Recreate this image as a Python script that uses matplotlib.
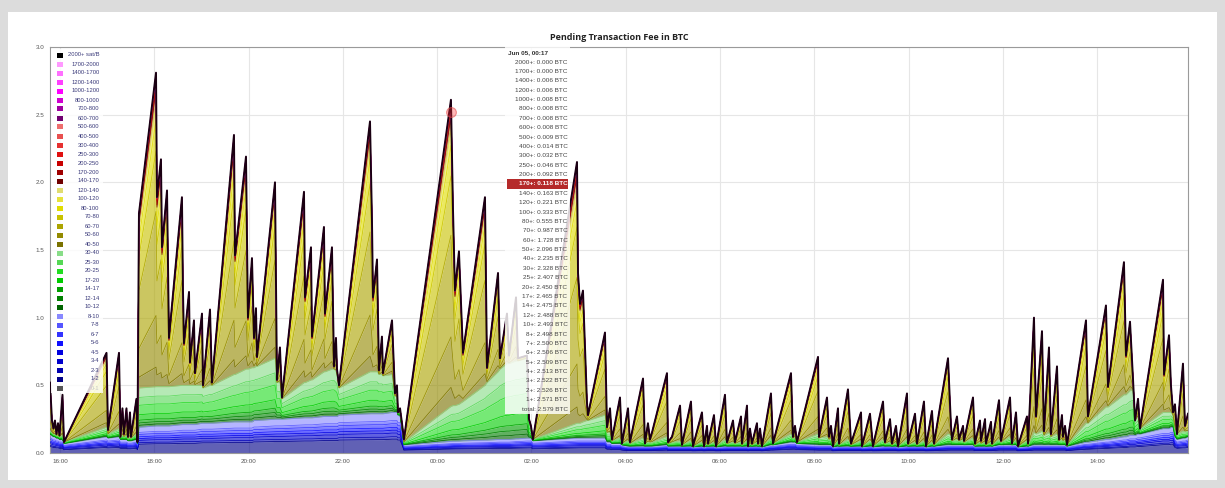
import numpy as np
import matplotlib
matplotlib.use("Agg")
import matplotlib.pyplot as plt
from matplotlib.patches import Rectangle

# ---------------- data ----------------
# time: minutes after Jun 04 16:00
minutes = [
    -12.7, -10.2, -8.3, -6.4, -4.5, -2.5, -0.6, 3.2, 5.1, 59.2, 61.1, 75.1, 77.0, 79.5, 81.4, 84.6, 86.5, 89.1, 90.3, 97.3, 98.6,
    100.5, 122.2, 123.4, 128.5, 129.8, 136.2, 138.7, 155.2, 156.5, 157.8, 164.2, 165.4, 170.5, 171.8, 180.7, 182.0, 190.9, 193.4,
    221.4, 222.7, 236.7, 239.2, 244.3, 246.9, 249.4, 250.7, 273.6, 276.1, 279.9, 282.5, 310.5, 311.8, 319.4, 320.7, 335.9, 337.2,
    346.1, 348.7, 351.2, 352.5, 355.0, 394.5, 397.0, 398.3, 403.4, 405.9, 409.7, 411.0, 422.5, 426.3, 428.8, 430.1, 432.7, 435.2, 437.7,
    497.5, 500.1, 502.6, 507.7, 512.8, 540.8, 543.4, 557.4, 559.9, 568.8, 571.4, 580.3, 582.8, 594.3, 596.8, 599.3, 601.9,
    657.9, 659.2, 661.7, 665.5, 670.6, 671.9, 693.5, 696.1, 699.9, 702.4, 712.6, 715.1,
    722.8, 725.3, 741.9, 744.4, 748.2, 750.8, 753.3, 772.4, 773.7, 778.8,
    789.0, 791.5, 802.9, 805.5, 816.9, 819.5, 823.3, 824.6, 832.2, 834.8,
    846.2, 848.7, 850.0, 856.4, 858.9, 866.6, 867.8, 874.2, 875.5, 878.0,
    880.6, 886.9, 888.2, 890.8, 893.3, 904.7, 907.3, 930.2, 932.7, 935.3,
    937.8, 964.6, 965.8, 976.0, 978.6, 981.1, 983.7, 990.0, 991.3, 1002.7,
    1006.6, 1019.3, 1020.5, 1030.7, 1033.3, 1034.5, 1047.3, 1049.8, 1056.2, 1058.7,
    1063.8, 1066.4, 1077.8, 1079.1, 1088.0, 1090.5, 1099.4, 1102.0, 1109.6, 1112.2,
    1130.0, 1133.8, 1135.1, 1141.4, 1144.0, 1149.1, 1150.4, 1161.8, 1164.3, 1170.7,
    1172.0, 1177.1, 1178.3, 1184.7, 1186.0, 1194.9, 1197.4, 1208.9, 1211.4, 1216.5,
    1219.1, 1230.5, 1231.8, 1239.4, 1242.0, 1249.6, 1252.1, 1258.5, 1261.0, 1268.7,
    1271.2, 1275.0, 1276.3, 1278.9, 1281.4,
    1305.6, 1308.1, 1331.0, 1333.6, 1353.9, 1356.5, 1361.6, 1365.4, 1368.0, 1371.8, 1374.3,
    1403.6, 1404.9, 1411.2, 1413.7, 1416.3, 1418.8, 1421.4, 1429.0, 1431.6, 1435.4,
]

# total pending fee (BTC)
total_btc = [
    .52, .24, .18, .24, .14, .22, .13, .43, .08, .74, .17, .74, .12, .33, .14, .33, .12, .30, .12, .40, .08,
    1.77, 2.81, 1.89, 2.17, 1.52, 1.94, .85, 1.89, 1.20, .81, 1.19, .67, .98, .59, 1.03, .50, 1.06, .52,
    2.35, 1.46, 2.19, 1.00, 1.44, .85, 1.07, .71, 2.00, .54, .78, .41, 1.93, 1.15, 1.52, .86, 1.67, 1.03,
    1.52, .64, .85, .62, .50, 2.45, 1.72, 1.15, 1.43, .61, .86, .59, .98, .44, .50, .30, .33, .22, .10,
    2.61, 1.80, 1.20, 1.49, .74, 1.89, .63, 1.33, .70, 1.03, .72, 1.15, .70, .72, .25, .20, .10,
    2.15, 1.33, 1.10, 1.20, .37, .28, .89, .19, .33, .10, .41, .07,
    .33, .08, .55, .07, .22, .10, .15, .59, .08, .12,
    .35, .06, .38, .05, .30, .05, .20, .07, .28, .05,
    .43, .08, .10, .24, .08, .27, .07, .35, .05, .18,
    .07, .22, .07, .18, .05, .44, .07, .59, .12, .20,
    .08, .71, .12, .41, .12, .20, .05, .33, .07, .47,
    .07, .30, .05, .29, .12, .05, .38, .08, .25, .07,
    .20, .05, .44, .07, .29, .07, .38, .05, .31, .07,
    .70, .20, .10, .27, .10, .20, .09, .41, .07, .24,
    .09, .25, .07, .23, .07, .39, .09, .41, .07, .30,
    .05, .27, .07, 1.00, .27, .90, .16, .78, .14, .64,
    .10, .28, .12, .20, .06,
    .98, .27, 1.09, .49, 1.41, .72, .97, .55, .24, .40, .18,
    1.28, .58, .87, .50, .30, .36, .14, .66, .20, .29,
]

# cumulative fee of transactions paying below 10 sat/B (blue bands)
below_10 = [
    .14, .13, .12, .12, .11, .11, .10, .10, .07, .12, .11, .12, .10, .10, .10, .10, .09, .09, .09, .10, .07,
    .19, .20, .20, .20, .20, .20, .20, .21, .21, .21, .21, .21, .21, .21, .22, .22, .22, .22,
    .23, .23, .23, .23, .23, .24, .24, .24, .25, .25, .25, .25, .26, .26, .26, .26, .27, .27,
    .27, .27, .27, .27, .28, .29, .29, .29, .29, .29, .29, .29, .30, .30, .30, .28, .28, .18, .06,
    .086, .087, .087, .088, .09, .095, .095, .10, .10, .10, .10, .105, .105, .11, .11, .11, .09,
    .11, .11, .11, .11, .11, .11, .11, .08, .08, .07, .07, .06,
    .05, .05, .05, .05, .05, .05, .05, .06, .05, .05,
    .05, .05, .05, .045, .05, .045, .05, .05, .05, .045,
    .05, .05, .05, .05, .05, .05, .05, .05, .045, .05,
    .05, .05, .05, .05, .045, .06, .06, .08, .08, .08,
    .07, .06, .06, .06, .06, .06, .045, .05, .05, .05,
    .05, .05, .045, .05, .05, .045, .05, .05, .05, .05,
    .05, .045, .05, .05, .05, .05, .05, .045, .05, .05,
    .06, .06, .06, .06, .06, .06, .06, .06, .05, .05,
    .05, .05, .05, .05, .05, .06, .06, .06, .06, .06,
    .045, .05, .05, .06, .06, .06, .06, .06, .06, .06,
    .06, .06, .06, .06, .05,
    .08, .08, .10, .10, .12, .12, .13, .13, .13, .14, .14,
    .18, .18, .18, .19, .19, .12, .10, .11, .11, .12,
]

# cumulative fee of transactions paying below 40 sat/B (blue + green bands)
below_40 = [
    .16, .15, .14, .14, .13, .13, .12, .13, .08, .19, .14, .18, .12, .13, .12, .13, .11, .12, .11, .14, .08,
    .48, .49, .49, .49, .49, .49, .49, .50, .50, .50, .50, .50, .50, .50, .50, .48, .50, .50,
    .58, .58, .62, .62, .63, .63, .64, .64, .70, .52, .52, .40, .52, .52, .54, .54, .60, .60,
    .62, .62, .60, .58, .48, .60, .60, .60, .60, .58, .58, .57, .58, .42, .42, .30, .30, .22, .08,
    .344, .35, .35, .36, .38, .50, .52, .60, .62, .66, .66, .68, .68, .70, .25, .20, .10,
    .22, .22, .22, .23, .24, .24, .28, .15, .15, .09, .11, .07,
    .09, .07, .11, .07, .08, .08, .08, .12, .07, .08,
    .09, .06, .09, .05, .08, .05, .07, .06, .08, .05,
    .10, .07, .07, .08, .07, .08, .06, .09, .05, .07,
    .06, .08, .06, .07, .05, .11, .07, .14, .11, .12,
    .08, .14, .11, .12, .10, .11, .05, .09, .06, .10,
    .06, .09, .05, .09, .08, .05, .10, .07, .08, .06,
    .08, .05, .10, .06, .08, .06, .09, .05, .08, .06,
    .14, .13, .09, .10, .09, .10, .08, .11, .06, .08,
    .07, .08, .06, .08, .06, .10, .08, .12, .07, .10,
    .05, .09, .06, .15, .14, .16, .13, .15, .12, .14,
    .09, .10, .09, .10, .06,
    .22, .22, .34, .34, .43, .43, .46, .47, .24, .27, .18,
    .30, .30, .30, .30, .28, .18, .14, .16, .16, .16,
]

# fee bands (bottom to top) and colours
band_labels = ["0-1", "1-2", "2-3", "3-4", "4-5", "5-6", "6-7", "7-8", "8-10",
               "10-12", "12-14", "14-17", "17-20", "20-25", "25-30", "30-40",
               "40-50", "50-60", "60-70", "70-80", "80-100", "100-120", "120-140",
               "140-170", "170-200", "200-250", "250-300", "300-400", "400-500", "500-600",
               "600-700", "700-800", "800-1000", "1000-1200", "1200-1400", "1400-1700",
               "1700-2000", "2000+ sat/B"]
band_colors = ["#555555", "#000088", "#0000b0", "#0000cc", "#0000e0", "#1010ff", "#3333ff", "#5555ff", "#8888ff",
               "#006400", "#008000", "#00a000", "#00cc00", "#22dd22", "#55d855", "#88dd88",
               "#7a7200", "#938a00", "#aca400", "#c8c200", "#e0dc00", "#e6e23a", "#e0dc70",
               "#700000", "#a00000", "#c80000", "#e01010", "#e63030", "#e85050", "#ee6e6e",
               "#700070", "#a000a0", "#d000d0", "#ff00ff", "#ff40ff", "#ff70ff",
               "#ff99ff", "#000000"]

# composition inside each group (1-10, 10-40, 40+ sat/B)
blue_shares = [0.34, 0.06, 0.09, 0.07, 0.07, 0.09, 0.08, 0.20]
green_shares = [0.05, 0.06, 0.07, 0.14, 0.24, 0.20, 0.24]
upper_shares = [0.139, 0.368, 0.741, 0.432, 0.222, 0.112, 0.058, 0.045, 0.026, 0.046, 0.014,
                0.018, 0.005, 0.001, 0.0, 0.0, 0.0, 0.002, 0.0, 0.006, 0.0, 0.0]

xtick_minutes = [0, 120, 240, 360, 480, 600, 720, 840, 960, 1080, 1200, 1320]
xtick_labels = ["16:00", "18:00", "20:00", "22:00", "00:00", "02:00", "04:00",
                "06:00", "08:00", "10:00", "12:00", "14:00"]
ytick_values = [0.0, 0.5, 1.0, 1.5, 2.0, 2.5, 3.0]

tooltip_title = "Jun 05, 00:17"
tooltip_labels = ["2000+", "1700+", "1400+", "1200+", "1000+", "800+", "700+", "600+", "500+",
                  "400+", "300+", "250+", "200+", "170+", "140+", "120+", "100+", "80+", "70+",
                  "60+", "50+", "40+", "30+", "25+", "20+", "17+", "14+", "12+", "10+", "8+",
                  "7+", "6+", "5+", "4+", "3+", "2+", "1+", "total"]
tooltip_values = [0.000, 0.000, 0.006, 0.006, 0.008, 0.008, 0.008, 0.008, 0.009, 0.014, 0.032,
                  0.046, 0.092, 0.118, 0.163, 0.221, 0.333, 0.555, 0.987, 1.728, 2.096, 2.235,
                  2.328, 2.407, 2.450, 2.465, 2.475, 2.488, 2.493, 2.498, 2.500, 2.506, 2.509,
                  2.513, 2.522, 2.526, 2.571, 2.579]
tooltip_highlight = "170+"
tooltip_time = 497.5

# ---------------- build stack ----------------
t = np.array(minutes, float)
T = np.array(total_btc, float)
G = np.minimum(np.array(below_40, float), T)
B = np.minimum(np.array(below_10, float), G)

layers = []
bs = np.array(blue_shares) / np.sum(blue_shares)
for s in bs:
    layers.append(B * s)
gs = np.array(green_shares) / np.sum(green_shares)
for s in gs:
    layers.append((G - B) * s)
us = np.array(upper_shares) / np.sum(upper_shares)
for s in us:
    layers.append((T - G) * s)
cum = np.cumsum(np.vstack(layers), axis=0)
draw_colors = band_colors[1:]

# ---------------- figure ----------------
W, H = 1225, 488
fig = plt.figure(figsize=(W / 100, H / 100), dpi=100)
fig.patch.set_facecolor("#dcdcdc")
fig.add_artist(Rectangle((8 / W, 8 / H), 1209 / W, 468 / H, transform=fig.transFigure,
                         facecolor="white", edgecolor="none", zorder=-5))

def fp(px, py):
    return (px / W, 1 - py / H)

ax = fig.add_axes([50 / W, 35 / H, 1138 / W, 406 / H])
ax.set_facecolor("white")

lower = np.zeros_like(T)
for i in range(cum.shape[0]):
    upper = cum[i]
    ax.fill_between(t, lower, upper, color=draw_colors[i], alpha=0.62, lw=0, zorder=2)
    lower = upper
for i in range(cum.shape[0] - 1):
    ax.plot(t, cum[i], color=draw_colors[i], lw=0.55, alpha=0.9, zorder=3)
ax.plot(t, cum[-1], color="#1a0012", lw=1.4, zorder=4)

# hover marker on the 170-200 band top
k = int(np.argmin(np.abs(t - tooltip_time)))
band_idx = band_labels.index("170-200") - 1
ax.plot(t[k], cum[band_idx][k], "o", ms=7, mfc=(1, 0.2, 0.2, 0.35),
        mec=(0.9, 0.3, 0.3, 0.6), mew=0.8, zorder=6)

ax.set_xlim(t[0], t[-1])
ax.set_ylim(0, 3.0)
ax.set_xticks(xtick_minutes)
ax.set_xticklabels(xtick_labels)
ax.set_yticks(ytick_values)
ax.set_yticklabels([f"{v:.1f}" for v in ytick_values])
ax.tick_params(length=0, labelsize=4.5, labelcolor="#555555", pad=4)
for lab in ax.get_xticklabels() + ax.get_yticklabels():
    lab.set_family("Liberation Sans")
ax.grid(True, color="#e6e6e6", lw=0.8)
ax.set_axisbelow(True)
for sp in ax.spines.values():
    sp.set_color("#9a9a9a")
    sp.set_linewidth(0.8)

fig.text(*fp(619, 37), "Pending Transaction Fee in BTC", ha="center", va="center",
         fontsize=6.5, fontweight="bold", family="Open Sans", color="#222222")

# ---------------- legend ----------------
x0, y0 = fp(51, 393)
fig.add_artist(Rectangle((x0, y0), 52 / W, 344 / H, transform=fig.transFigure,
                         facecolor="white", alpha=0.82, edgecolor="none", zorder=10))
for j, (lab, col) in enumerate(zip(band_labels[::-1], band_colors[::-1])):
    py = 55 + 9.0 * j
    rx, ry = fp(56.5, py + 2.5)
    fig.add_artist(Rectangle((rx, ry), 6.5 / W, 5 / H, transform=fig.transFigure,
                             facecolor=col, edgecolor="none", zorder=11))
    fig.text(*fp(99.5, py), lab, ha="right", va="center", fontsize=4.2,
             family="Liberation Sans", color="#c8c8c8" if lab == "0-1" else "#3a3a7a", zorder=12)

# ---------------- tooltip ----------------
bx, by = fp(505, 414)
fig.add_artist(Rectangle((bx, by), 65 / W, 369 / H, transform=fig.transFigure,
                         facecolor="white", alpha=0.82, edgecolor="none", zorder=10))
fig.text(*fp(508, 52.5), tooltip_title, ha="left", va="center", fontsize=4.6,
         fontweight="bold", family="Liberation Sans", color="#333333", zorder=12)
for j, (lab, val) in enumerate(zip(tooltip_labels, tooltip_values)):
    py = 62 + 9.38 * j
    txt = f"{lab}: {val:.3f} BTC"
    if lab == tooltip_highlight:
        hx, hy = fp(507, py + 5)
        fig.add_artist(Rectangle((hx, hy), 61 / W, 10 / H, transform=fig.transFigure,
                                 facecolor="#b52a2a", edgecolor="none", zorder=11))
        fig.text(*fp(567.5, py), txt, ha="right", va="center", fontsize=4.6,
                 fontweight="bold", family="Liberation Sans", color="white", zorder=12)
    else:
        fig.text(*fp(567.5, py), txt, ha="right", va="center", fontsize=4.6,
                 family="Liberation Sans", color="#444444", zorder=12)

fig.savefig("out.png", dpi=100, facecolor=fig.get_facecolor())
